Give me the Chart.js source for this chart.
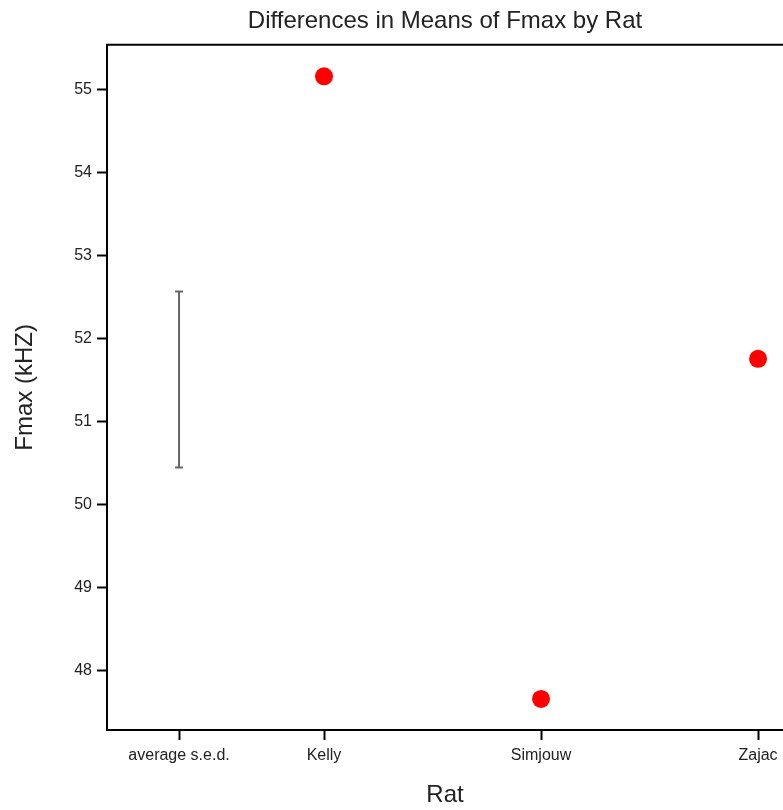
<!DOCTYPE html>
<html>
<head>
<meta charset="utf-8">
<script src="https://cdn.jsdelivr.net/npm/chart.js@4"></script>
<style>
  html, body { margin: 0; padding: 0; background: #fff; }
  #wrap { width: 783px; height: 810px; }
</style>
</head>
<body>
<div id="wrap"><canvas id="ratChart"></canvas></div>
<script>
const rats = ["Kelly", "Simjouw", "Zajac"];
const ratX = [1, 2, 3];
const fmaxMeans = [55.163, 47.663, 51.76];

const sedX = 0.332;
const sedRange = [50.45, 52.57];

const xTickPos = [0.332, 1, 2, 3];
const xTickLabels = ["average s.e.d.", "Kelly", "Simjouw", "Zajac"];
const yTicks = [48, 49, 50, 51, 52, 53, 54, 55];

const font = "'Liberation Sans', Arial, sans-serif";

// top frame line of the plot box
const topBorder = {
  id: "topBorder",
  afterDraw(chart) {
    const { ctx, chartArea } = chart;
    ctx.save();
    ctx.strokeStyle = "#000";
    ctx.lineWidth = 2;
    ctx.beginPath();
    ctx.moveTo(chartArea.left - 1, chartArea.top);
    ctx.lineTo(chartArea.right, chartArea.top);
    ctx.stroke();
    ctx.restore();
  },
};

const ctx = document.getElementById("ratChart").getContext("2d");
new Chart(ctx, {
  type: "scatter",
  data: {
    datasets: [
      {
        label: "s.e.d.",
        data: sedRange.map((y) => ({ x: sedX, y })),
        showLine: true,
        borderColor: "#666",
        borderWidth: 2,
        pointStyle: "line",
        pointRadius: 4,
        pointBorderColor: "#666",
        pointBorderWidth: 2,
      },
      {
        label: "Fmax",
        data: ratX.map((x, i) => ({ x, y: fmaxMeans[i] })),
        backgroundColor: "#ff0000",
        borderWidth: 0,
        pointRadius: 9,
      },
    ],
  },
  options: {
    responsive: true,
    maintainAspectRatio: false,
    animation: false,
    layout: { padding: 0, autoPadding: false },
    plugins: {
      legend: { display: false },
      tooltip: { enabled: false },
      title: {
        display: true,
        text: "Differences in Means of Fmax by Rat",
        color: "#222",
        font: { family: font, size: 24, weight: "normal" },
        padding: { top: 7, bottom: 9 },
        fullSize: false,
      },
    },
    scales: {
      x: {
        type: "linear",
        min: 0,
        max: 3.115,
        afterBuildTicks: (scale) => {
          scale.ticks = xTickPos.map((v) => ({ value: v }));
        },
        afterFit: (scale) => {
          scale.height = 80;
          scale.paddingLeft = 0;
          scale.paddingRight = 0;
        },
        ticks: {
          autoSkip: false,
          maxRotation: 0,
          padding: 6,
          color: "#222",
          font: { family: font, size: 16 },
          callback: (v, i) => xTickLabels[i],
        },
        grid: {
          drawOnChartArea: false,
          drawTicks: true,
          tickLength: 10,
          tickWidth: 2,
          color: "#000",
        },
        border: { display: true, color: "#000", width: 2 },
        title: {
          display: true,
          text: "Rat",
          color: "#222",
          font: { family: font, size: 24 },
          padding: { top: 0, bottom: 0 },
        },
      },
      y: {
        type: "linear",
        min: 47.289,
        max: 55.542,
        afterBuildTicks: (scale) => {
          scale.ticks = yTicks.map((v) => ({ value: v }));
        },
        afterFit: (scale) => {
          scale.width = 107;
        },
        ticks: {
          padding: 5,
          color: "#222",
          font: { family: font, size: 16 },
        },
        grid: {
          drawOnChartArea: false,
          drawTicks: true,
          tickLength: 10,
          tickWidth: 2,
          color: "#000",
        },
        border: { display: true, color: "#000", width: 2 },
        title: {
          display: true,
          text: "Fmax (kHZ)",
          color: "#222",
          font: { family: font, size: 24 },
          padding: { top: 11, bottom: 0 },
        },
      },
    },
  },
  plugins: [topBorder],
});
</script>
</body>
</html>
